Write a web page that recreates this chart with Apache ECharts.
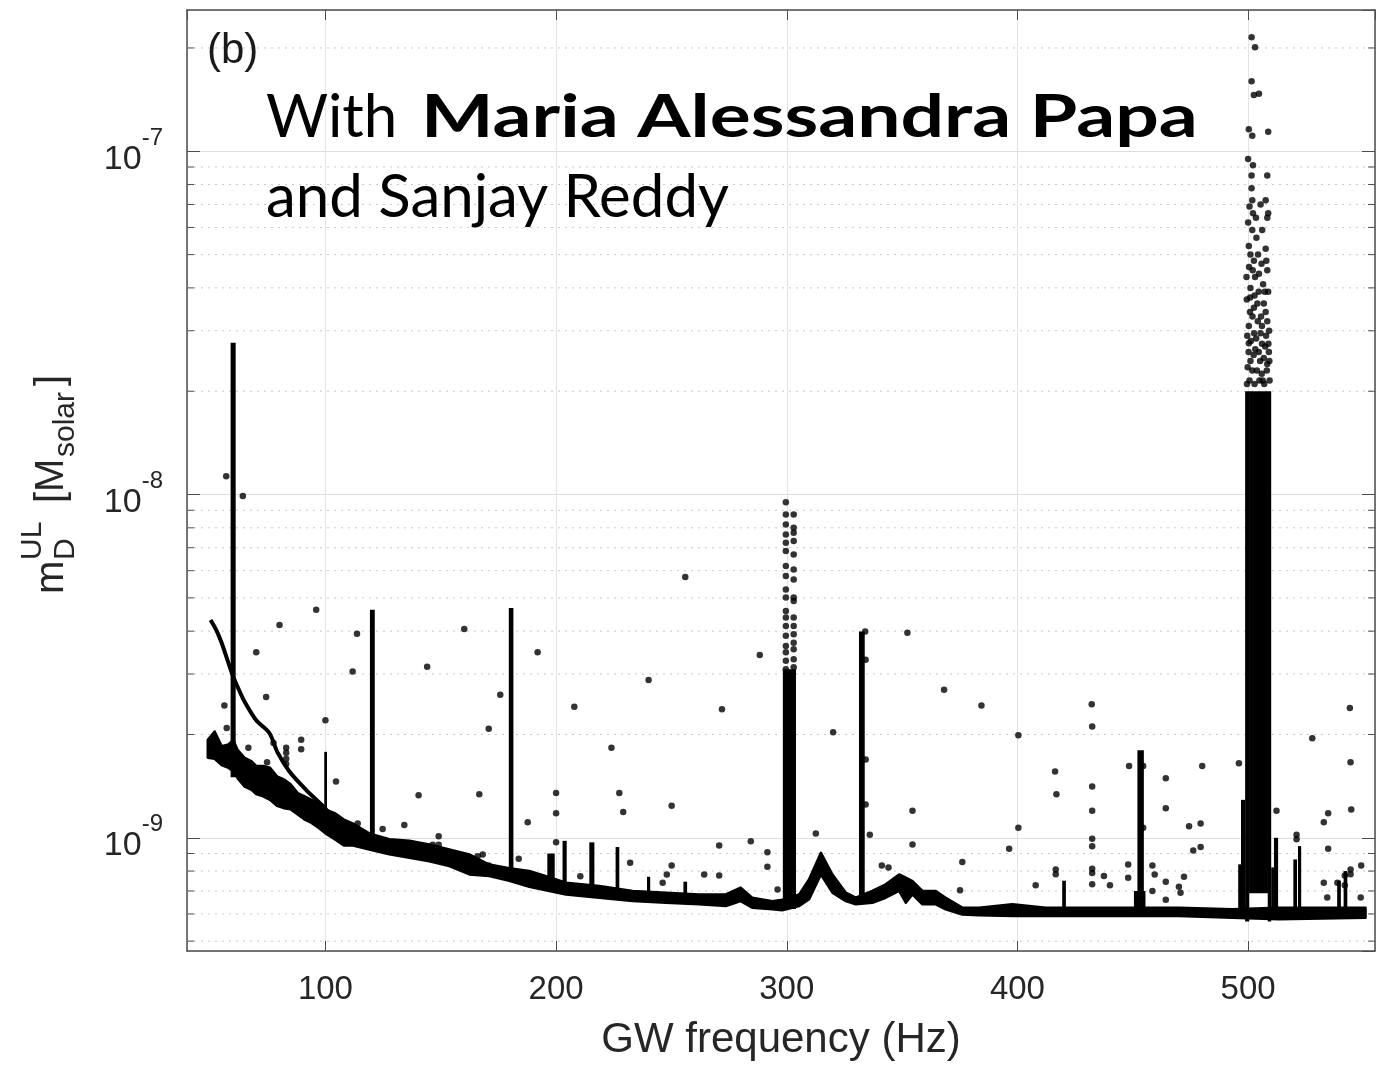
<!DOCTYPE html>
<html>
<head>
<meta charset="utf-8">
<script src="https://cdn.jsdelivr.net/npm/echarts@6/dist/echarts.min.js"></script>
<style>
  html, body { margin: 0; padding: 0; background: #ffffff; }
  #chart { width: 1381px; height: 1066px; }
</style>
</head>
<body>
<div id="chart"></div>
<script>
// ---- axis ranges and tick values ----
const xRange = [40, 555];
const yRange = [4.68e-10, 2.58e-7];
const xTickValues = [100, 200, 300, 400, 500];
const yDecadeLabels = { '-9': '-9', '-8': '-8', '-7': '-7' };
const yMinorTicks = [
  5e-10, 6e-10, 7e-10, 8e-10, 9e-10,
  2e-9, 3e-9, 4e-9, 5e-9, 6e-9, 7e-9, 8e-9, 9e-9,
  2e-8, 3e-8, 4e-8, 5e-8, 6e-8, 7e-8, 8e-8, 9e-8,
  2e-7
];

// ---- dense lower envelope of the upper limits (band) ----
const bandFreq = [49, 52, 55, 58, 60, 62, 65, 68, 70, 73, 76, 79, 82, 85, 88, 91, 94, 97, 100, 104, 108,
  112, 119, 127.7, 136.4, 145, 153.7, 162.4, 171, 179.7, 188.4, 194, 204.3, 218.7, 233.2, 247.6, 262,
  273.6, 280, 285, 293.8, 298, 305.4, 309.7, 314.8, 319.8, 325.6, 329.9, 337.1, 342.9, 348.7, 351.6,
  354.5, 358.8, 364.6, 368.9, 376.1, 383.4, 397.8, 412.3, 441.1, 470, 493.1, 513.3, 550.9];
const bandUpper = [1.93e-9, 2.04e-9, 1.85e-9, 1.87e-9, 1.93e-9, 1.80e-9, 1.71e-9, 1.67e-9, 1.62e-9, 1.62e-9,
  1.60e-9, 1.51e-9, 1.48e-9, 1.43e-9, 1.35e-9, 1.32e-9, 1.29e-9, 1.26e-9, 1.21e-9, 1.18e-9, 1.13e-9,
  1.10e-9, 1.03e-9, 0.99e-9, 0.98e-9, 0.956e-9, 0.925e-9, 0.895e-9, 0.836e-9, 0.815e-9, 0.80e-9, 0.78e-9,
  0.74e-9, 0.724e-9, 0.70e-9, 0.692e-9, 0.684e-9, 0.684e-9, 0.716e-9, 0.669e-9, 0.654e-9, 0.66e-9,
  0.684e-9, 0.757e-9, 0.904e-9, 0.782e-9, 0.692e-9, 0.669e-9, 0.70e-9, 0.732e-9, 0.782e-9, 0.765e-9,
  0.748e-9, 0.70e-9, 0.70e-9, 0.669e-9, 0.626e-9, 0.626e-9, 0.64e-9, 0.626e-9, 0.626e-9, 0.626e-9,
  0.619e-9, 0.626e-9, 0.626e-9];
const bandLower = [1.71e-9, 1.70e-9, 1.63e-9, 1.60e-9, 1.56e-9, 1.49e-9, 1.41e-9, 1.38e-9, 1.34e-9, 1.32e-9,
  1.29e-9, 1.24e-9, 1.22e-9, 1.21e-9, 1.17e-9, 1.13e-9, 1.105e-9, 1.07e-9, 1.03e-9, 0.99e-9, 0.95e-9,
  0.95e-9, 0.925e-9, 0.895e-9, 0.875e-9, 0.855e-9, 0.827e-9, 0.782e-9, 0.774e-9, 0.75e-9, 0.72e-9, 0.707e-9,
  0.684e-9, 0.669e-9, 0.654e-9, 0.647e-9, 0.64e-9, 0.633e-9, 0.654e-9, 0.626e-9, 0.619e-9, 0.615e-9,
  0.633e-9, 0.662e-9, 0.782e-9, 0.692e-9, 0.654e-9, 0.64e-9, 0.647e-9, 0.669e-9, 0.70e-9, 0.647e-9,
  0.684e-9, 0.64e-9, 0.64e-9, 0.619e-9, 0.598e-9, 0.595e-9, 0.592e-9, 0.592e-9, 0.592e-9, 0.592e-9,
  0.585e-9, 0.579e-9, 0.585e-9];

// ---- secondary track falling from 50 Hz ----
const curveFreq = [50.2, 52.6, 55.0, 57.5, 60.0, 62.5, 65.0, 70.0, 75.7, 79.3, 84.4, 91.6, 98.8, 102];
const curveValue = [4.31e-9, 4.04e-9, 3.70e-9, 3.30e-9, 2.95e-9, 2.70e-9, 2.49e-9, 2.20e-9, 2.02e-9,
  1.77e-9, 1.56e-9, 1.38e-9, 1.24e-9, 1.17e-9];

// ---- narrow lines: [freq from, freq to, lower value, upper value] ----
const lineColumns = [
  [58.9, 61.1, 1.5e-9, 2.77e-8],
  [99.5, 100.7, 1.05e-9, 1.78e-9],
  [119.3, 121.4, 0.95e-9, 4.62e-9],
  [179.5, 181.5, 0.78e-9, 4.67e-9],
  [196.2, 199.4, 0.70e-9, 0.90e-9],
  [202.8, 204.6, 0.70e-9, 0.98e-9],
  [214.4, 216.6, 0.68e-9, 0.97e-9],
  [225.8, 227.4, 0.67e-9, 0.94e-9],
  [239.4, 240.8, 0.66e-9, 0.77e-9],
  [255.2, 256.8, 0.65e-9, 0.745e-9],
  [298.3, 304.0, 0.62e-9, 3.1e-9],
  [331.3, 333.8, 0.65e-9, 3.99e-9],
  [419.4, 421.0, 0.60e-9, 0.75e-9],
  [450.5, 455.5, 0.60e-9, 0.70e-9],
  [452.0, 454.8, 0.60e-9, 1.80e-9],
  [495.7, 497.2, 0.58e-9, 0.837e-9],
  [496.9, 498.8, 0.58e-9, 1.29e-9],
  [498.7, 500.5, 0.57e-9, 2.0e-8],
  [500.4, 508.6, 0.69e-9, 2.0e-8],
  [508.5, 510.0, 0.57e-9, 2.0e-8],
  [510.0, 511.2, 0.58e-9, 0.82e-9],
  [511.2, 513.0, 0.58e-9, 1.0e-9],
  [519.6, 521.2, 0.58e-9, 0.865e-9],
  [521.6, 523.0, 0.58e-9, 0.946e-9],
  [538.6, 540.2, 0.58e-9, 0.75e-9],
  [541.4, 543.0, 0.58e-9, 0.80e-9]
];

// ---- dotted upper part of the 300 Hz line ----
const spike300Dots = [
  [299.6, 9.50e-9], [299.6, 8.75e-9], [299.6, 8.18e-9], [299.6, 7.65e-9], [299.6, 7.24e-9], [299.6, 6.85e-9],
  [299.6, 6.19e-9], [299.6, 5.79e-9], [299.6, 5.29e-9], [299.6, 5.01e-9], [299.6, 4.58e-9], [299.6, 4.38e-9],
  [299.6, 4.14e-9], [299.6, 3.88e-9], [299.6, 3.62e-9], [299.6, 3.47e-9], [299.6, 3.28e-9], [299.6, 3.10e-9],
  [303.0, 8.75e-9], [303.0, 8.00e-9], [303.0, 7.74e-9], [303.0, 7.32e-9], [303.0, 6.69e-9], [303.0, 6.05e-9],
  [303.0, 5.66e-9], [303.0, 5.01e-9], [303.0, 4.90e-9], [303.0, 4.38e-9], [303.0, 4.14e-9], [303.0, 3.92e-9],
  [303.0, 3.70e-9], [303.0, 3.54e-9], [303.0, 3.31e-9], [303.0, 3.14e-9]
];

// ---- scattered points around the 500 Hz feature ----
const cluster500 = [
  [501.5, 2.15e-7], [503.0, 2.01e-7], [501.5, 1.60e-7], [502.5, 1.46e-7], [504.7, 1.47e-7], [500.3, 1.16e-7],
  [501.8, 1.11e-7], [508.7, 1.14e-7], [500.0, 9.5e-8], [502.1, 9.1e-8], [501.5, 8.5e-8], [508.3, 8.5e-8],
  [501.5, 7.8e-8], [501.8, 7.2e-8], [500.6, 6.9e-8], [505.4, 7.0e-8], [507.6, 7.2e-8], [508.7, 6.6e-8],
  [508.3, 6.4e-8], [502.1, 6.6e-8], [501.8, 5.9e-8], [506.1, 5.9e-8], [507.6, 5.2e-8], [500.3, 5.3e-8],
  [502.5, 4.8e-8], [504.7, 4.4e-8], [508.3, 4.5e-8], [501.0, 4.0e-8], [508.7, 3.9e-8], [507.6, 3.4e-8],
  [502.5, 3.5e-8], [500.3, 3.1e-8], [508.3, 3.2e-8], [505.4, 2.95e-8], [509.0, 2.6e-8], [500.3, 2.76e-8],
  [508.3, 2.4e-8], [503.6, 5.6e-8], [501.0, 5.0e-8], [506.5, 4.1e-8], [502.8, 3.8e-8], [500.8, 3.4e-8],
  [504.2, 3.2e-8], [506.8, 3.6e-8], [503.0, 4.3e-8], [500.4, 4.6e-8],
  [499.6, 2.9e-8], [501.2, 2.8e-8], [503.5, 2.85e-8], [506.0, 2.75e-8], [507.8, 2.9e-8], [500.2, 2.6e-8],
  [502.4, 2.55e-8], [504.6, 2.6e-8], [506.8, 2.5e-8], [509.2, 2.45e-8], [499.8, 2.35e-8], [501.8, 2.3e-8],
  [503.8, 2.3e-8], [505.9, 2.25e-8], [508.1, 2.3e-8], [500.6, 2.15e-8], [502.8, 2.1e-8], [504.9, 2.15e-8],
  [507.0, 2.1e-8], [509.3, 2.15e-8],
  [499.4, 3.7e-8], [501.9, 3.3e-8], [504.0, 3.6e-8], [505.6, 3.3e-8], [507.2, 3.9e-8], [509.1, 3.0e-8],
  [499.3, 4.3e-8], [502.0, 4.5e-8], [504.3, 5.0e-8], [505.8, 4.7e-8], [500.0, 6.2e-8], [503.4, 6.4e-8],
  [504.6, 3.9e-8], [503.1, 2.65e-8], [505.2, 2.45e-8], [507.4, 2.7e-8], [501.0, 2.45e-8], [499.5, 2.1e-8],
  [506.3, 2.15e-8], [508.8, 2.75e-8], [500.9, 3.75e-8], [506.0, 3.1e-8], [502.6, 2.95e-8], [507.9, 4.8e-8]
];

// ---- isolated outliers ----
const outliers = [
  [57.0, 1.13e-8], [64.2, 9.9e-9], [80.1, 4.17e-9], [70.0, 3.47e-9], [96.0, 4.62e-9], [56.2, 2.43e-9],
  [57.2, 2.09e-9], [74.3, 2.57e-9], [66.6, 1.83e-9], [74.7, 1.66e-9], [77.5, 1.89e-9], [83.0, 1.83e-9],
  [83.0, 1.77e-9], [83.0, 1.70e-9], [83.0, 1.64e-9], [89.5, 1.93e-9], [89.5, 1.81e-9], [100.0, 2.20e-9],
  [104.6, 1.46e-9], [111.8, 3.05e-9], [113.7, 3.93e-9], [114.0, 1.10e-9], [124.8, 1.06e-9], [134.2, 1.09e-9],
  [140.4, 1.33e-9], [144.1, 3.15e-9], [149.1, 1.01e-9], [146.5, 0.955e-9], [149.1, 0.955e-9], [160.2, 4.06e-9],
  [166.7, 1.34e-9], [163.8, 0.869e-9], [166.0, 0.884e-9], [168.2, 0.894e-9], [170.8, 0.831e-9], [175.8, 2.61e-9],
  [170.8, 2.08e-9], [187.7, 1.11e-9], [183.8, 0.869e-9], [192.0, 3.47e-9],
  [207.9, 2.41e-9], [200.0, 1.35e-9], [200.0, 1.18e-9], [200.0, 0.97e-9], [210.5, 0.773e-9], [224.0, 1.83e-9],
  [227.4, 1.35e-9], [229.1, 1.19e-9], [232.1, 0.846e-9], [240.1, 2.88e-9], [250.1, 1.24e-9], [250.1, 0.831e-9],
  [248.0, 0.782e-9], [246.2, 0.74e-9], [256.0, 5.75e-9], [264.2, 0.782e-9], [270.7, 0.95e-9], [270.7, 0.777e-9],
  [271.9, 2.37e-9], [284.4, 0.977e-9], [288.3, 3.41e-9], [291.6, 0.908e-9], [291.6, 0.823e-9], [296.0, 0.707e-9],
  [312.6, 1.03e-9], [320.1, 2.03e-9], [336.0, 1.02e-9], [341.2, 0.83e-9], [344.1, 0.82e-9], [352.3, 3.96e-9],
  [354.5, 1.2e-9], [354.5, 0.956e-9], [334.0, 3.99e-9], [334.2, 3.3e-9], [334.2, 1.69e-9], [334.2, 1.25e-9],
  [368.2, 2.70e-9], [376.1, 0.85e-9], [375.1, 0.703e-9], [384.4, 2.43e-9], [396.4, 0.929e-9], [400.4, 1.99e-9],
  [400.4, 1.07e-9], [407.9, 0.727e-9], [416.3, 1.56e-9], [416.9, 1.34e-9], [416.6, 0.809e-9], [416.6, 0.783e-9],
  [432.2, 2.45e-9], [432.4, 2.11e-9], [432.4, 1.41e-9], [432.4, 1.20e-9], [432.4, 0.994e-9], [432.4, 0.945e-9],
  [432.4, 0.813e-9], [432.4, 0.79e-9], [432.4, 0.732e-9], [437.5, 0.774e-9], [440.1, 0.728e-9], [448.4, 1.62e-9],
  [448.0, 0.836e-9], [448.0, 0.765e-9], [454.5, 1.62e-9], [454.5, 1.07e-9], [458.5, 0.831e-9], [459.5, 0.782e-9],
  [458.5, 0.70e-9], [464.3, 1.49e-9], [464.3, 1.22e-9], [464.3, 0.745e-9], [464.3, 0.66e-9], [472.2, 0.77e-9],
  [470.0, 0.72e-9], [470.7, 0.692e-9], [474.4, 1.08e-9], [476.2, 0.918e-9], [479.4, 1.1e-9], [479.4, 0.94e-9],
  [480.1, 1.62e-9], [496.0, 1.65e-9], [512.3, 1.2e-9], [521.0, 1.02e-9], [521.0, 0.99e-9], [527.8, 1.95e-9],
  [532.8, 1.11e-9], [534.7, 1.18e-9], [534.7, 0.929e-9], [532.8, 0.74e-9], [538.7, 0.74e-9], [544.1, 2.39e-9],
  [544.4, 1.66e-9], [544.7, 1.21e-9], [549.0, 0.831e-9], [544.4, 0.809e-9], [544.4, 0.783e-9], [541.9, 0.777e-9],
  [541.9, 0.728e-9], [534.3, 0.67e-9], [548.8, 0.67e-9]
];

// ---- text ----
const panelTag = '(b)';
const creditLine1 = ['With', 'Maria Alessandra Papa'];
const creditLine2 = 'and Sanjay Reddy';
const xAxisTitle = 'GW frequency (Hz)';

const axisFont = '"Liberation Sans", Arial, sans-serif';
const creditFont = 'Lato, "Open Sans", sans-serif';
const axisGray = '#4d4d4d';
const textGray = '#262626';

const chart = echarts.init(document.getElementById('chart'), null, { renderer: 'canvas' });

function renderBand(params, api) {
  const pts = [];
  for (let i = 0; i < bandFreq.length; i++) pts.push(api.coord([bandFreq[i], bandUpper[i]]));
  for (let i = bandFreq.length - 1; i >= 0; i--) pts.push(api.coord([bandFreq[i], bandLower[i]]));
  return {
    type: 'polygon',
    shape: { points: pts },
    style: { fill: '#000', stroke: '#000', lineWidth: 2.5, lineJoin: 'round' }
  };
}

function renderColumn(params, api) {
  const a = api.coord([api.value(0), api.value(3)]);
  const b = api.coord([api.value(1), api.value(2)]);
  return {
    type: 'rect',
    shape: { x: a[0], y: a[1], width: Math.max(b[0] - a[0], 2), height: b[1] - a[1] },
    style: { fill: '#000' }
  };
}

function renderMinor(params, api) {
  const v = api.value(1);
  const a = api.coord([xRange[0], v]);
  const b = api.coord([xRange[1], v]);
  return {
    type: 'group',
    children: [
      { type: 'line', shape: { x1: a[0], y1: a[1], x2: b[0], y2: b[1] },
        style: { stroke: '#c8c8c8', lineWidth: 1, lineDash: [2, 5] } },
      { type: 'line', shape: { x1: a[0], y1: a[1], x2: a[0] + 7, y2: a[1] },
        style: { stroke: axisGray, lineWidth: 1 } },
      { type: 'line', shape: { x1: b[0] - 7, y1: b[1], x2: b[0], y2: b[1] },
        style: { stroke: axisGray, lineWidth: 1 } }
    ]
  };
}

const yLabelFormatter = function (value) {
  const e = String(Math.round(Math.log10(value)));
  return yDecadeLabels[e] ? '{b|10}{e|' + yDecadeLabels[e] + '}' : '';
};

const xAxisBase = {
  type: 'value', min: xRange[0], max: xRange[1], splitNumber: 5,
  axisLine: { show: true, onZero: false, lineStyle: { color: axisGray, width: 1.5 } },
  axisTick: { show: true, inside: true, length: 10, lineStyle: { color: axisGray, width: 1 } }
};
const yAxisBase = {
  type: 'log', logBase: 10, min: yRange[0], max: yRange[1],
  axisLine: { show: true, onZero: false, lineStyle: { color: axisGray, width: 1.5 } },
  axisTick: { show: true, inside: true, length: 13, lineStyle: { color: axisGray, width: 1 } }
};

chart.setOption({
  animation: false,
  backgroundColor: '#ffffff',
  grid: { left: 187, top: 10, right: 6, bottom: 114, containLabel: false },
  xAxis: [
    Object.assign({}, xAxisBase, {
      position: 'bottom',
      name: xAxisTitle, nameLocation: 'middle', nameGap: 68,
      nameTextStyle: { fontFamily: axisFont, fontSize: 42, color: textGray },
      axisLabel: {
        show: true, margin: 22, fontFamily: axisFont, fontSize: 33, color: textGray,
        showMinLabel: false, showMaxLabel: false,
        formatter: function (v) { return xTickValues.indexOf(v) >= 0 ? String(v) : ''; }
      },
      splitLine: { show: true, lineStyle: { color: '#e3e3e3', width: 1 } }
    }),
    Object.assign({}, xAxisBase, {
      position: 'top', axisLabel: { show: false }, splitLine: { show: false }
    })
  ],
  yAxis: [
    Object.assign({}, yAxisBase, {
      position: 'left',
      axisLabel: {
        show: true, margin: 24, showMinLabel: false, showMaxLabel: false,
        formatter: yLabelFormatter,
        rich: {
          b: { fontFamily: axisFont, fontSize: 34, color: textGray, padding: [16, 0, 0, 0] },
          e: { fontFamily: axisFont, fontSize: 24, color: textGray, verticalAlign: 'top', lineHeight: 24 }
        }
      },
      splitLine: { show: true, lineStyle: { color: '#dedede', width: 1 } }
    }),
    Object.assign({}, yAxisBase, {
      position: 'right', axisLabel: { show: false }, splitLine: { show: false }
    })
  ],
  series: [
    {
      type: 'custom', name: 'minor grid', z: 1, silent: true,
      coordinateSystem: 'cartesian2d', clip: false,
      data: yMinorTicks.map(v => [xRange[0], v]),
      encode: { x: 0, y: 1 },
      renderItem: renderMinor
    },
    {
      type: 'custom', name: 'band', z: 3, silent: true,
      coordinateSystem: 'cartesian2d',
      data: [[bandFreq[0], bandUpper[0]]],
      encode: { x: 0, y: 1 },
      renderItem: renderBand
    },
    {
      type: 'line', name: 'track', z: 4, silent: true,
      data: curveFreq.map((f, i) => [f, curveValue[i]]),
      showSymbol: false, smooth: 0.3,
      lineStyle: { color: '#000', width: 4 }
    },
    {
      type: 'custom', name: 'lines', z: 5, silent: true,
      coordinateSystem: 'cartesian2d',
      data: lineColumns,
      encode: { x: [0, 1], y: [2, 3] },
      renderItem: renderColumn
    },
    {
      type: 'scatter', name: 'points', z: 6, silent: true,
      symbol: 'circle', symbolSize: 6.5,
      itemStyle: { color: '#000' },
      data: outliers.concat(spike300Dots, cluster500)
    }
  ],
  graphic: [
    {
      type: 'text', left: 207, top: 30, z: 100,
      style: { text: panelTag, fontFamily: axisFont, fontSize: 42, fill: '#1a1a1a' }
    },
    {
      type: 'text', left: 266, top: 88, z: 100,
      style: { text: creditLine1[0], fontFamily: creditFont, fontSize: 60, fill: '#000' }
    },
    {
      type: 'text', x: 421, y: 88, scaleX: 1.28, z: 100,
      style: { text: creditLine1[1], fontFamily: creditFont, fontSize: 60, fontWeight: 'bold', fill: '#000' }
    },
    {
      type: 'text', left: 266, top: 168, z: 100,
      style: { text: creditLine2, fontFamily: creditFont, fontSize: 60, fill: '#000' }
    },
    {
      // y-axis title: m_D^UL [M_solar], reading bottom to top
      type: 'group', x: 52, y: 594, rotation: Math.PI / 2, z: 100,
      children: [
        { type: 'text', x: 0, y: 0, style: { text: 'm', fontFamily: axisFont, fontSize: 40, fill: textGray, verticalAlign: 'middle' } },
        { type: 'text', x: 34, y: -19, style: { text: 'UL', fontFamily: axisFont, fontSize: 30, fill: textGray, verticalAlign: 'middle' } },
        { type: 'text', x: 34, y: 14, style: { text: 'D', fontFamily: axisFont, fontSize: 30, fill: textGray, verticalAlign: 'middle' } },
        { type: 'text', x: 91, y: 0, style: { text: '[M', fontFamily: axisFont, fontSize: 40, fill: textGray, verticalAlign: 'middle' } },
        { type: 'text', x: 137, y: 14, style: { text: 'solar', fontFamily: axisFont, fontSize: 30, fill: textGray, verticalAlign: 'middle' } },
        { type: 'text', x: 208, y: 0, style: { text: ']', fontFamily: axisFont, fontSize: 40, fill: textGray, verticalAlign: 'middle' } }
      ]
    }
  ]
});
</script>
</body>
</html>
